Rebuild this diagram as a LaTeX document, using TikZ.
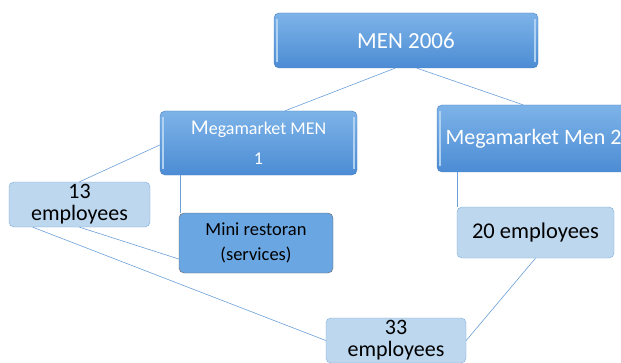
\documentclass[tikz,border=0pt]{standalone}
\usepackage{fontspec}
\setmainfont{Carlito}
\definecolor{linkblue}{HTML}{6A9FD8}
\definecolor{boxtop}{HTML}{7DB3E8}
\definecolor{boxbot}{HTML}{4C8CD4}
\definecolor{boxline}{HTML}{4A7FBF}
\definecolor{paleblue}{HTML}{BDD7EE}
\definecolor{paleline}{HTML}{7AA9DB}
\definecolor{midblue}{HTML}{6AA6E2}
\tikzstyle{topbox} = [rectangle, rounded corners=5pt, draw=boxline, top color=boxtop, bottom color=boxbot, text=white, align=center, inner sep=0pt,
  path picture={\draw [white!40!boxtop, line width=1.5pt] ([xshift=3pt,yshift=-6pt]path picture bounding box.north west) -- ([xshift=3pt,yshift=6pt]path picture bounding box.south west);
                \draw [white!40!boxtop, line width=1.5pt] ([xshift=-3pt,yshift=-6pt]path picture bounding box.north east) -- ([xshift=-3pt,yshift=6pt]path picture bounding box.south east);}]
\tikzstyle{staffbox} = [rectangle, rounded corners=5pt, draw=paleline, fill=paleblue, text=black, align=center, inner sep=0pt]
\tikzstyle{servicebox} = [rectangle, rounded corners=5pt, draw=black!60, fill=midblue, text=black, align=center, inner sep=0pt]
\tikzstyle{link} = [draw=linkblue, line width=0.6pt]
\begin{document}
\begin{tikzpicture}[x=1pt, y=1pt, node distance=100pt]
\clip (0,0) rectangle (621,362);
\node (men) [topbox, minimum width=264pt, minimum height=55pt, font=\fontsize{23}{24}\selectfont] at (406,321.5) {MEN 2006};
\node (mm1) [topbox, below of=men, xshift=-147.5pt, yshift=-2.5pt, minimum width=197pt, minimum height=64pt, font=\fontsize{18}{30}\selectfont] {{\fontsize{21}{30}\selectfont M}egamarket MEN\\1};
\node (mm2) [topbox, below of=men, xshift=127.5pt, yshift=2pt, minimum width=193pt, minimum height=67pt, font=\fontsize{22}{24}\selectfont] {Megamarket Men 2};
\node (mini) [servicebox, below of=mm1, xshift=-2.5pt, minimum width=154pt, minimum height=60pt, font=\fontsize{18.5}{25}\selectfont] {Mini restoran\\(services)};
\node (e13) [staffbox, left of=mini, xshift=-76.5pt, yshift=38.5pt, minimum width=141pt, minimum height=45pt, font=\fontsize{22}{22}\selectfont] {13\\employees};
\node (e20) [staffbox, below of=mm2, xshift=2pt, yshift=6pt, minimum width=157pt, minimum height=51pt, font=\fontsize{22.5}{22}\selectfont] {20 employees};
\node (e33) [staffbox, below of=mini, xshift=140pt, yshift=2.5pt, minimum width=140pt, minimum height=45pt, font=\fontsize{22}{22}\selectfont] {33\\employees};

\draw [link] ([xshift=-11pt]men.south) -- ([xshift=26.5pt]mm1.north);
\draw [link] ([xshift=11pt]men.south) -- ([xshift=-10.5pt]mm2.north);
\draw [link] ([yshift=-2pt]mm1.west) -- (e13.north);
\draw [link] ([xshift=20pt]mm1.south west) -- ([xshift=1pt]mini.north west);
\draw [link] (e13.south) -- ([yshift=-16pt]mini.west);
\draw [link] ([xshift=24pt]e13.south west) -- (e33.west);
\draw [link] ([xshift=20pt]mm2.south west) -- (e20.north west);
\draw [link] (e20.south) -- (e33.east);
\end{tikzpicture}
\end{document}
